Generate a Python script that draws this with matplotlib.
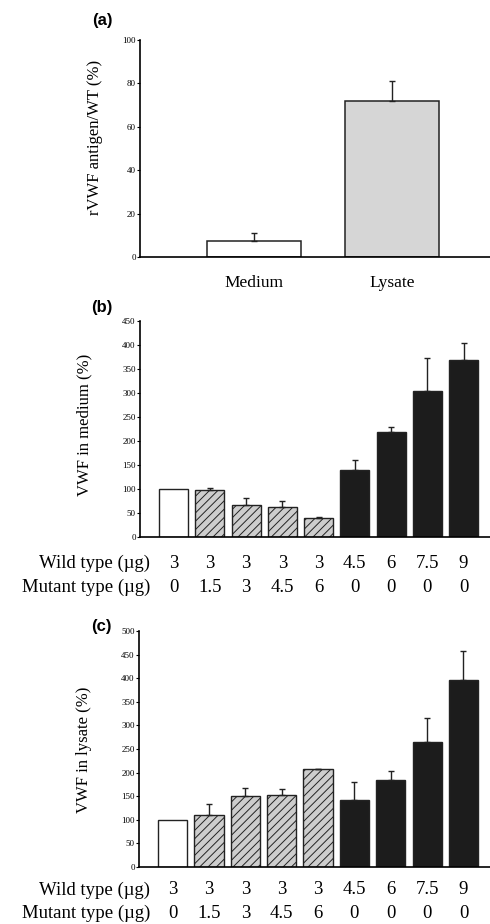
import numpy as np
import matplotlib
matplotlib.use("Agg")
import matplotlib.pyplot as plt
from matplotlib import transforms

plt.rcParams['font.family'] = ['Liberation Serif', 'DejaVu Serif']
plt.rcParams['hatch.linewidth'] = 0.7

# === Daten ===
# (a)
a_labels = ["Medium", "Lysate"]
a_values = [7.5, 72]
a_errors = [3.5, 9]

# (b) und (c)
wild_type = ["3", "3", "3", "3", "3", "4.5", "6", "7.5", "9"]
mutant_type = ["0", "1.5", "3", "4.5", "6", "0", "0", "0", "0"]
b_values = [100, 97, 67, 62, 40, 139, 218, 304, 368]
b_errors = [0, 5, 14, 14, 1, 21, 12, 69, 36]
c_values = [100, 111, 150, 152, 207, 141, 185, 264, 396]
c_errors = [0, 23, 18, 14, 1, 39, 18, 51, 62]
groups = ["wt", "mix", "mix", "mix", "mix", "wt_hi", "wt_hi", "wt_hi", "wt_hi"]

fig = plt.figure(figsize=(4.9, 9.24), dpi=100)

def stil(ax, ymax, step):
    ax.spines['top'].set_visible(False)
    ax.spines['right'].set_visible(False)
    ax.spines['left'].set_linewidth(1.2)
    ax.spines['bottom'].set_linewidth(1.2)
    ax.set_ylim(0, ymax)
    ax.set_yticks(np.arange(0, ymax + 1, step))
    ax.tick_params(axis='y', direction='out', length=2, width=0.8, pad=1, labelsize=6.5)

def fehler(ax, x, values, errors):
    # nur obere Fehlerbalken, keine bei Fehler 0
    x = np.asarray(x)
    v = np.asarray(values, dtype=float)
    e = np.asarray(errors, dtype=float)
    m = e > 0
    ax.errorbar(x[m], v[m], yerr=[np.zeros(m.sum()), e[m]], fmt='none',
                ecolor='#222222', elinewidth=1.0, capsize=2.5, capthick=1.0)

# --- (a) ---
ax_a = fig.add_axes([0.2857, 0.7219, 0.7143, 0.2348])
x_a = np.arange(len(a_labels))
ax_a.bar(x_a, a_values, width=0.68, color=['white', '#d6d6d6'], edgecolor='#222222', linewidth=1.1)
fehler(ax_a, x_a, a_values, a_errors)
ax_a.set_xlim(-0.826, 1.71)
stil(ax_a, 100, 20)
ax_a.set_xticks(x_a, a_labels, fontsize=12.5)
ax_a.tick_params(axis='x', length=0, pad=13)
ax_a.set_ylabel("rVWF antigen/WT (%)", fontsize=12)
ax_a.yaxis.set_label_coords(-0.106, 0.553)
fig.text(92 / 490, 1 - 20 / 924, "(a)", family='Liberation Sans', fontweight='bold',
         fontsize=12, va='center', ha='left')

# --- (b) und (c) ---
def panel(rect, values, errors, ymax, ylabel, ylab_xy, row_y, tag, tag_y):
    ax = fig.add_axes(rect)
    x = np.arange(len(values))
    farben = {"wt": "white", "mix": "#cdcdcd", "wt_hi": "#1c1c1c"}
    for xi, v, g in zip(x, values, groups):
        ax.bar(xi, v, width=0.8, color=farben[g], edgecolor='#222222', linewidth=1.0,
               hatch='////' if g == "mix" else None)
    fehler(ax, x, values, errors)
    ax.set_xlim(-0.924, 8.73)
    stil(ax, ymax, 50)
    ax.set_xticks([])
    ax.set_ylabel(ylabel, fontsize=12)
    ax.yaxis.set_label_coords(*ylab_xy)

    trans = transforms.blended_transform_factory(ax.transData, fig.transFigure)
    for xi, w, m in zip(x, wild_type, mutant_type):
        ax.text(xi, row_y[0], w, transform=trans, ha='center', va='center', fontsize=13.5)
        ax.text(xi, row_y[1], m, transform=trans, ha='center', va='center', fontsize=13.5)
    fig.text(150 / 490, row_y[0], "Wild type (µg)", ha='right', va='center', fontsize=13.5)
    fig.text(150 / 490, row_y[1], "Mutant type (µg)", ha='right', va='center', fontsize=13.5)
    fig.text(91 / 490, 1 - tag_y / 924, tag, family='Liberation Sans', fontweight='bold',
             fontsize=12, va='center', ha='left')
    return ax

panel([0.2857, 0.4188, 0.7143, 0.2338], b_values, b_errors, 450, "VWF in medium (%)",
      (-0.137, 0.52), (1 - 563 / 924, 1 - 587 / 924), "(b)", 308)
panel([0.2837, 0.0617, 0.7163, 0.2554], c_values, c_errors, 500, "VWF in lysate (%)",
      (-0.134, 0.496), (1 - 890 / 924, 1 - 913 / 924), "(c)", 627)

fig.savefig("out.png", dpi=100)
